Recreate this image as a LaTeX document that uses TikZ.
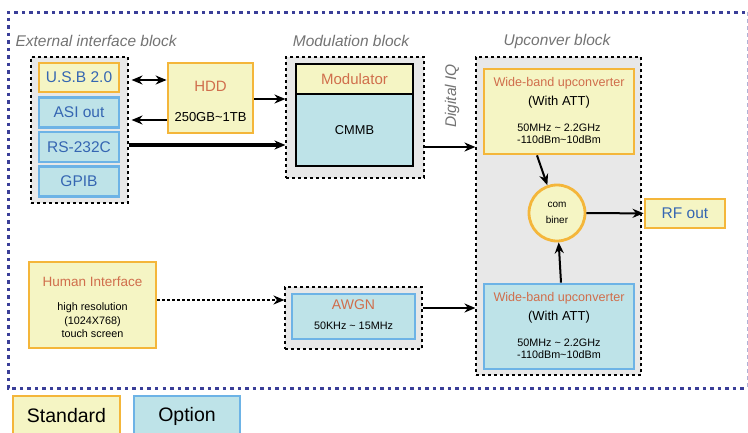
\documentclass[tikz,border=0pt]{standalone}
\usepackage{fontspec}
\setmainfont{Liberation Sans}
\usetikzlibrary{arrows.meta}
\definecolor{stdfill}{HTML}{F5F5C4}
\definecolor{stdline}{HTML}{F4B63A}
\definecolor{optfill}{HTML}{BEE3E8}
\definecolor{optline}{HTML}{6DB3E6}
\definecolor{grpfill}{HTML}{E8E8E8}
\definecolor{outerline}{HTML}{3A3E98}
\definecolor{titlered}{HTML}{D06E4C}
\definecolor{textblue}{HTML}{3566B2}
\newcommand{\fs}[1]{\fontsize{#1}{#1}\selectfont}
\tikzset{
  box/.style={draw, line width=2.8pt, minimum width=#1, inner sep=0pt},
  stdbox/.style={box=#1, fill=stdfill, draw=stdline},
  optbox/.style={box=#1, fill=optfill, draw=optline},
  grp/.style={draw, dashed, line width=1.1pt, fill=grpfill, inner sep=0pt},
  tip/.tip={Stealth[length=11pt,width=9pt,inset=3.5pt]},
  arr/.style={line width=2pt, -tip},
  grptitle/.style={font=\fs{15.5}\itshape, text=black!55},
}
\begin{document}
\begin{tikzpicture}[x=1pt,y=-1pt]
  \useasboundingbox (0,0) rectangle (748,432);
  % outer frame
  \draw[outerline, line width=3pt, dash pattern=on 3.5pt off 4pt] (745,12) -- (8,12) -- (8,388) -- (745,388);
  \draw[outerline!40, line width=1pt, dash pattern=on 4pt off 3pt] (747,12) -- (747,388);
  % group titles
  \node[grptitle, anchor=west] at (12,41) {External interface block};
  \node[grptitle] at (351,41) {Modulation block};
  \node[grptitle] at (557,41) {Upconver block};
  % external interface block
  \node[grp, minimum width=97, minimum height=146] (extgrp) at (79.5,130) {};
  \node[stdbox=80, minimum height=29, text=textblue, font=\fs{15.5}] (usb) at (79,77.5) {U.S.B 2.0};
  \foreach \n/\y/\t in {asi/112.5/ASI out, rs/147/RS-232C, gpib/181.5/GPIB} {
    \node[optbox=80, minimum height=30, text=textblue, font=\fs{15.5}] (\n) at (79,\y) {\t};
  }
  \node[stdbox=85, minimum height=70] (hdd) at (210.5,98) {};
  \node[text=titlered, font=\fs{15}] at (210.5,86) {HDD};
  \node[font=\fs{13}] at (210.5,117) {250GB\textasciitilde 1TB};
  % modulation block
  \node[grp, minimum width=138, minimum height=121] (modgrp) at (355,117.5) {};
  \node[draw, line width=1.2pt, fill=stdfill, minimum width=117, minimum height=30, text=titlered, font=\fs{15}] (modu) at (354.5,79) {Modulator};
  \node[draw, line width=1.2pt, fill=optfill, minimum width=117, minimum height=72, font=\fs{12.8}] (cmmb) at (354.5,130) {CMMB};
  \node[grptitle, rotate=90] at (452,96) {Digital IQ};
  % upconverter block
  \node[grp, minimum width=165, minimum height=318] (upgrp) at (558.5,216) {};
  \foreach \n/\y/\s in {upA/111.5/stdbox, upB/326.5/optbox} {
    \node[\s=150, minimum height=85] (\n) at (559,\y) {};
    \node[text=titlered, font=\fs{12.6}] at (559,\y-28.5) {Wide-band upconverter};
    \node[font=\fs{13}] at (559,\y-9.5) {(With ATT)};
    \node[font=\fs{10.8}, align=center] at (559,\y+22.5) {50MHz \textasciitilde{} 2.2GHz\\[1.5pt]-110dBm\textasciitilde 10dBm};
  }
  \node[circle, draw=stdline, line width=2.8pt, fill=stdfill, minimum size=56, inner sep=0pt, font=\fs{10}, align=center] (comb) at (557,213) {com\\[6pt]biner};
  \node[stdbox=80, minimum height=29, text=textblue, font=\fs{15.5}] (rfout) at (685,213.5) {RF out};
  % human interface and noise
  \node[stdbox=127, minimum height=86] (human) at (92.5,305) {};
  \node[text=titlered, font=\fs{13.5}] at (92.5,282) {Human Interface};
  \node[font=\fs{10.8}, align=center] at (92.5,320.5) {high resolution\\[2.7pt](1024X768)\\[2.7pt]touch screen};
  \node[grp, minimum width=137, minimum height=62] (awgngrp) at (353.5,318) {};
  \node[optbox=123, minimum height=45] (awgn) at (353.5,316.5) {};
  \node[text=titlered, font=\fs{14}] at (353.5,305) {AWGN};
  \node[font=\fs{10.8}] at (353.5,325.5) {50KHz \textasciitilde{} 15MHz};
  % connectors
  \draw[arr, tip-tip] ([xshift=3pt,yshift=18pt]extgrp.east |- hdd.west) -- ([yshift=18pt]hdd.west);
  \draw[arr] ([yshift=-22pt]hdd.west) -- ([xshift=3pt,yshift=-22pt]extgrp.east |- hdd.west);
  \draw[arr] ([yshift=-1pt]hdd.east) -- ([yshift=-1pt]modgrp.west |- hdd.east);
  \draw[arr, line width=3.2pt] ([yshift=2pt]extgrp.east |- rs) -- ([yshift=2pt]modgrp.west |- rs);
  \draw[arr] ([yshift=-29.5pt]modgrp.east) -- ([yshift=-29.5pt]upgrp.west |- modgrp.east);
  \draw[arr] ([xshift=-22pt]upA.south) -- (comb);
  \draw[arr] ([xshift=2pt]upB.north) -- (comb);
  \draw[arr] (comb) -- (rfout);
  \draw[arr, dash pattern=on 2.5pt off 2.5pt, line width=2.5pt] ([yshift=5pt]human.east) -- ([yshift=5pt]awgngrp.west |- human.east);
  \draw[arr] ([yshift=10pt]awgngrp.east) -- ([yshift=10pt]upgrp.west |- awgngrp.east);
  % legend
  \node[stdbox=107, minimum height=40, font=\fs{19.5}] (std) at (66.5,416) {Standard};
  \node[optbox=106, minimum height=40, font=\fs{19.5}] (opt) at (187,416) {Option};
\end{tikzpicture}
\end{document}
